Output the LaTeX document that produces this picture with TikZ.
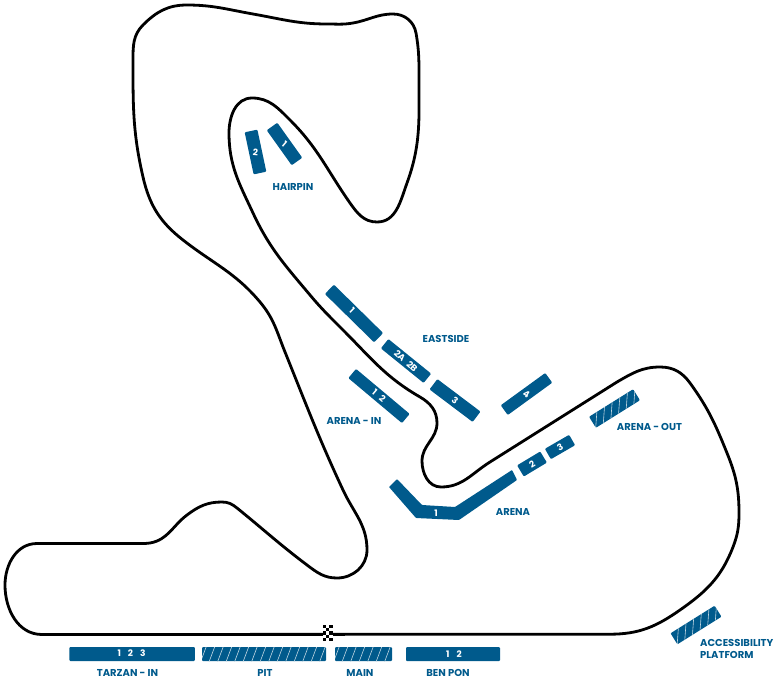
\documentclass[tikz,border=0pt]{standalone}
\usepackage{fontspec}
\setmainfont{Poppins}
\definecolor{standblue}{HTML}{005A8C}
\tikzset{
  track/.style={line width=2.8pt,black,line join=round},
  stand/.style={fill=standblue,rounded corners=1pt,inner sep=0pt,draw=none},
  nummark/.style={text=white,font=\fontsize{9}{10}\selectfont\bfseries,inner sep=0pt},
  standname/.style={text=standblue,font=\fontsize{10}{11.5}\selectfont\bfseries,inner sep=0pt},
}
% name, x, y, length, height, rotation, lean of the hatch, spacing
\newcommand{\hatchbar}[8]{%
  \node[stand,minimum width=#4 pt,minimum height=#5 pt,rotate=#6] (#1) at (#2,#3) {};
  \begin{scope}[shift={(#2,#3)},rotate=#6]
    \clip (-#4/2,-#5/2) rectangle (#4/2,#5/2);
    \pgfmathsetmacro{\hstop}{#4/2+10}
    \pgfmathsetmacro{\hnext}{-#4/2-10+#8}
    \pgfmathsetmacro{\hfirst}{-#4/2-10}
    \foreach \hx in {\hfirst,\hnext,...,\hstop}
      \draw[white!75!standblue,line width=0.6pt] (\hx,#5/2+1) -- (\hx+#7,-#5/2-1);
  \end{scope}}
\begin{document}
\begin{tikzpicture}[x=1pt,y=-1pt]
\useasboundingbox (0,0) rectangle (781,680);
\draw[track] (42,634.5) -- (610,634.2)
 to[out=0,in=215] (680,610)
 to[out=35,in=249] (733,547)
 to[out=69,in=270] (739,513)
 to[out=90,in=292] (727,453)
 to[out=112,in=306] (690,383)
 to[out=126,in=0] (660,367)
 to[out=180,in=30] (617,382)
 -- (490,462)
 to[out=212,in=0] (441,487)
 to[out=180,in=270] (422,461)
 to[out=90,in=270] (437,423)
 to[out=90,in=330] (420,397)
 to[out=150,in=315] (343,330)
 to[out=135,in=310] (310,295)
 to[out=130,in=295] (253,213)
 to[out=115,in=270] (229,133)
 to[out=90,in=180] (252,98)
 to[out=0,in=135] (290,120)
 to[out=-45,in=125] (350,203)
 to[out=-55,in=180] (377,222)
 to[out=0,in=250] (407,183)
 to[out=70,in=270] (419,80)
 to[out=90,in=280] (416,33)
 to[out=100,in=0] (393,14)
 to[out=180,in=10] (353,23)
 to[out=190,in=0] (327,24)
 to[out=180,in=350] (253,14)
 to[out=170,in=0] (187,5)
 to[out=180,in=45] (143,25)
 to[out=225,in=90] (133,60)
 to[out=270,in=103] (143,177)
 to[out=283,in=142] (183,240)
 to[out=-38,in=130] (260,302)
 to[out=-50,in=112] (285,352)
 to[out=-68,in=115] (343,490)
 to[out=-65,in=90] (367,550)
 to[out=270,in=0] (337,578)
 to[out=180,in=-37] (307,565)
 to[out=143,in=-39] (237,508)
 to[out=141,in=0] (222,502)
 to[out=180,in=37] (187,515)
 to[out=217,in=10] (150,543)
 to[out=190,in=0] (140,543.5)
 -- (37,543.5)
 to[out=180,in=90] (5,585)
 to[out=270,in=180] (42,634.5) -- cycle;
% chequered flag
\foreach \cx/\cy in {323/625,329.4/625,326.2/628.2,323/631.4,329.4/631.4,326.2/634.6,323/637.8,329.4/637.8}
  \fill[black] (\cx,\cy) rectangle ++(3.3,3.3);
\foreach \cx/\cy in {326.2/625,323/628.2,329.4/628.2,326.2/631.4,323/634.6,329.4/634.6,326.2/637.8}
  \fill[white] (\cx,\cy) rectangle ++(3.2,3.2);
% stands
\node[stand,minimum width=43pt,minimum height=13pt,rotate=-54.5] (hp1) at (284.5,144) {};
\node[nummark,rotate=-40] at (hp1) {1};
\node[stand,minimum width=43pt,minimum height=13pt,rotate=-78] (hp2) at (255.5,152) {};
\node[nummark,rotate=-5] at (hp2) {2};
\node[stand,minimum width=69pt,minimum height=13pt,rotate=-44.5] (es1) at (354,313.5) {};
\node[nummark,rotate=-44] at (352,310) {1};
\node[stand,minimum width=55pt,minimum height=12pt,rotate=-39] (es2) at (406,361) {};
\node[nummark,rotate=-42] at (es2) {2A\hspace{5pt}2B};
\node[stand,minimum width=54pt,minimum height=13pt,rotate=-37] (es3) at (455,400.5) {};
\node[nummark,rotate=-37] at (es3) {3};
\node[stand,minimum width=55pt,minimum height=12pt,rotate=36] (es4) at (526.5,394) {};
\node[nummark,rotate=-30] at (es4) {4};
\node[stand,minimum width=70pt,minimum height=12pt,rotate=-40] (ai) at (379,396) {};
\node[nummark,rotate=-40] at (ai) {1\hspace{6pt}2};
\fill[standblue,rounded corners=0.7pt] (397,479) -- (422,505) -- (455,507) -- (512,470) -- (517,480) -- (459,520) -- (416,518) -- (389,487) -- cycle;
\node[nummark] (ar1) at (436,513) {1};
\node[stand,minimum width=27pt,minimum height=13pt,rotate=31] (ar2) at (532,464) {};
\node[nummark,rotate=31] at (ar2) {2};
\node[stand,minimum width=28pt,minimum height=12pt,rotate=30] (ar3) at (560,447) {};
\node[nummark,rotate=30] at (ar3) {3};
\hatchbar{ao}{614.5}{408.5}{52}{13}{32}{11}{9}
\hatchbar{ap}{696}{625}{52}{13}{32}{11}{9}
\node[stand,minimum width=125.5pt,minimum height=14pt] (tz) at (132.2,654) {};
\node[nummark] at (131.5,653.5) {1\hspace{7pt}2\hspace{7pt}3};
\hatchbar{pit}{264}{654}{124}{14}{0}{6}{8.5}
\hatchbar{mn}{363.5}{654}{57}{14}{0}{6}{8.5}
\node[stand,minimum width=94pt,minimum height=14pt] (bp) at (453,654) {};
\node[nummark] at (454,654) {1\hspace{7pt}2};
% names
\node[standname] (n1) at (293,187) {HAIRPIN};
\node[standname] (n2) at (446,339) {EASTSIDE};
\node[standname] (n3) at (354,421) {ARENA - IN};
\node[standname] (n4) at (513,512) {ARENA};
\node[standname] (n5) at (649.5,427) {ARENA - OUT};
\node[standname,anchor=west,align=left] (n6) at (700,649) {ACCESSIBILITY\\PLATFORM};
\node[standname] (n7) at (127.5,673) {TARZAN - IN};
\node[standname] (n8) at (265,673) {PIT};
\node[standname] (n9) at (360,673) {MAIN};
\node[standname] (n10) at (448,673) {BEN PON};
\end{tikzpicture}
\end{document}
